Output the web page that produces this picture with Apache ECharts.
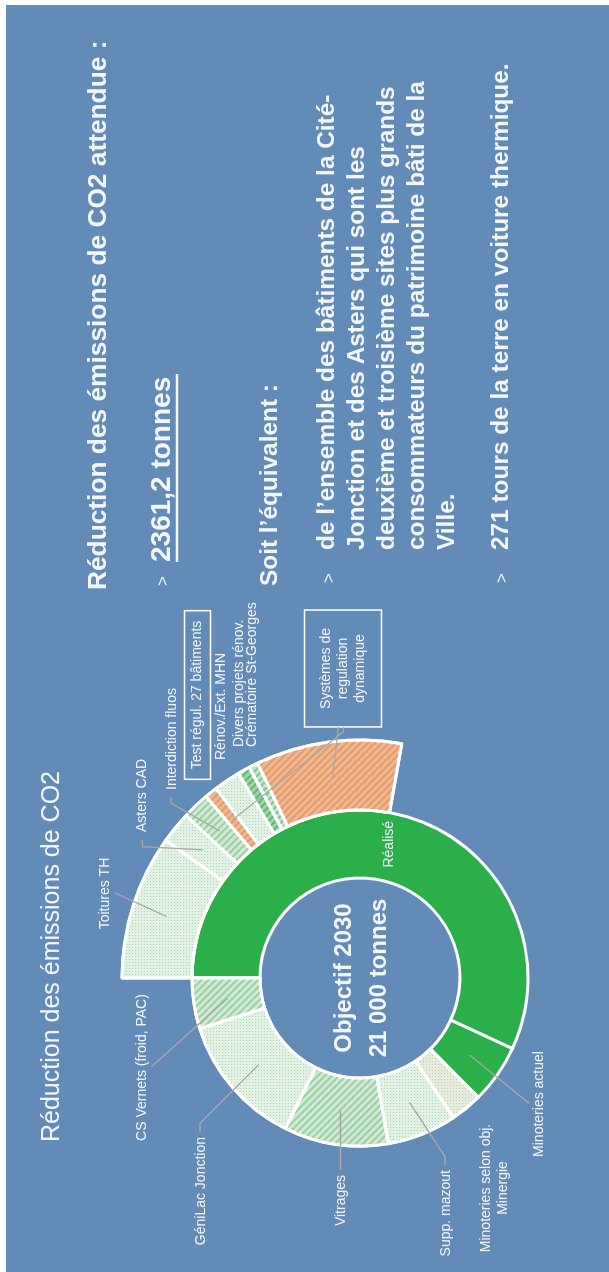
<!DOCTYPE html>
<html><head><meta charset="utf-8">
<script src="https://cdn.jsdelivr.net/npm/echarts@6/dist/echarts.min.js"></script>
<style>
html,body{margin:0;padding:0;background:#fff;width:609px;height:1272px;overflow:hidden;}
#bg{position:absolute;left:6px;top:5px;width:603px;height:1267px;background:#628BB8;}
#c{position:absolute;left:0;top:0;width:1272px;height:609px;transform-origin:0 0;transform:translate(0,1272px) rotate(-90deg);}
</style></head><body>
<div id="bg"></div><div id="c"></div>
<script>
// ---------- DATA (tonnes CO2) ----------
const objectiveTotal = 21000;
const innerNames = ['Réalisé','Minoteries actuel','Minoteries selon obj.\nMinergie','Supp. mazout','Vitrages','GéniLac Jonction','CS Vernets (froid, PAC)'];
const innerValues = [11950, 1190, 640, 1405, 2105, 2690, 1020];
const outerNames = ['Toitures TH','Asters CAD','Interdiction fluos','Test régul. 27 bâtiments','Rénov./Ext. MHN','Divers projets rénov.','Crématoire St-Georges','Systèmes de\nregulation\ndynamique'];
const outerValues = [2060, 450, 390, 180, 380, 175, 128, 2077];
const centerText = ['Objectif 2030', '21 000 tonnes'];
const titleText = 'Réduction des émissions de CO2';
const headText = 'Réduction des émissions de CO2 attendue :';
const reductionText = '2361,2 tonnes';
const equivText = 'Soit l’équivalent :';
const bullet1 = ['de l’ensemble des bâtiments de la Cité-','Jonction et des Asters qui sont les','deuxième et troisième sites plus grands','consommateurs du patrimoine bâti de la','Ville.'];
const bullet2 = '271 tours de la terre en voiture thermique.';

// ---------- STYLES ----------
const FF = '"Liberation Sans", Arial, Helvetica, sans-serif';
const C = [294, 360];
const WHITE = '#F4F7FA';
const LINE = '#A8A8A8';
const GREEN = '#2BAF4B';
const dot = (base, c) => ({color: base, decal: {symbol: 'rect', symbolSize: 1, dashArrayX: [1, 2], dashArrayY: [1, 2], color: c}});
const hatch = (base, c) => ({color: base, decal: {symbol: 'rect', symbolSize: 1, dashArrayX: [1, 0], dashArrayY: [1.5, 2.5], rotation: Math.PI / 4, color: c}});
const DOT = dot('#E1F1E3', 'rgba(120,185,135,0.5)');
const DOT_B = dot('#E6ECDD', 'rgba(160,185,140,0.55)');
const HATCH = hatch('#D2EBD5', 'rgba(130,195,145,0.7)');
const HATCH_G = hatch('#9FD6A9', 'rgba(80,175,100,0.8)');
const HATCH_L = hatch('#C4E5CA', 'rgba(110,190,130,0.8)');
const ORANGE = hatch('#EFB890', 'rgba(222,140,90,0.7)');
const innerStyles = [{color: GREEN}, {color: GREEN}, DOT_B, DOT, HATCH, DOT, HATCH];
const outerStyles = [DOT, DOT, HATCH, ORANGE, DOT, HATCH_G, HATCH_L, ORANGE];

// label placement (chart frame, px); pts = leader points after the in-segment anchor
const innerLab = [
  null,
  {x: 168, y: 539, align: 'center', pts: [[168.7, 529]]},
  {x: 84, y: 495, align: 'center'},
  {x: 102, y: 446, align: 'right', pts: [[115.3, 445], [107, 445]]},
  {x: 97, y: 341, align: 'right', pts: [[102, 340.5]]},
  {x: 135, y: 201, align: 'right', pts: [[148.7, 200], [140.3, 200]]},
  {x: 204.5, y: 142.5, align: 'center', pts: [[205.3, 151.5]]}
];
const outerLab = [
  {x: 378.5, y: 105, align: 'center', pts: [[379, 115]]},
  {x: 440, y: 142.5, align: 'left', pts: [[425.3, 142.3], [432.7, 142.3]]},
  {x: 482, y: 172, align: 'left', pts: [[469, 171], [475, 171]]},
  {x: 577, y: 197.4, align: 'center', extra: [[540.3, 343.3], [545, 343.3]]},
  {x: 512, y: 221, align: 'left'},
  {x: 525, y: 239, align: 'left'},
  {x: 525, y: 252, align: 'left'},
  {x: 603.5, y: 343, align: 'center', pts: [[545, 338.3]]}
];

function layoutFn(table) {
  return function (p) {
    const L = table[p.dataIndex];
    if (!L) return {};
    return {x: L.x, y: L.y, align: L.align, verticalAlign: 'middle'};
  };
}

const labelBase = {show: true, position: 'outside', color: WHITE, fontSize: 14, fontFamily: FF, lineHeight: 16, overflow: 'none', formatter: '{b}'};
const noLine = {show: false};

const innerData = innerNames.map((n, i) => {
  const d = {name: n, value: innerValues[i], itemStyle: Object.assign({borderColor: '#fff', borderWidth: 3}, innerStyles[i])};
  if (i === 0) d.label = {position: 'inside', rotate: 0, fontSize: 14};
  if (i === 2) d.label = {lineHeight: 17};
  return d;
});
const outerSum = outerValues.reduce((a, b) => a + b, 0);
const outerData = outerNames.map((n, i) => {
  const d = {name: n, value: outerValues[i], itemStyle: Object.assign({borderColor: '#fff', borderWidth: 3}, outerStyles[i])};
  if (i === 3) d.label = {borderColor: '#fff', borderWidth: 1.5, padding: [5, 10]};
  if (i === 7) d.label = {borderColor: '#fff', borderWidth: 1.5, padding: [13, 18], lineHeight: 17};
  return d;
});
outerData.push({name: '', value: objectiveTotal - outerSum, itemStyle: {color: 'rgba(0,0,0,0)', borderWidth: 0}, label: {show: false}});

const txt = (x, y, text, size, weight, extra) => ({type: 'text', x, y, silent: true, style: Object.assign({text, fill: WHITE, fontSize: size, fontWeight: weight, fontFamily: FF, align: 'left', verticalAlign: 'middle'}, extra || {})});

const chart = echarts.init(document.getElementById('c'), null, {renderer: 'canvas', width: 1272, height: 609});
const baseGraphic = [
  txt(130, 52, titleText, 25, 'normal'),
  txt(C[0], C[1] + 2, centerText.join('\n'), 24, 'bold', {align: 'center', lineHeight: 35}),
  txt(682, 99, headText, 26.3, 'bold'),
  txt(686, 163, '>', 17, 'normal'),
  txt(710, 162, reductionText, 28, 'bold'),
  {type: 'line', silent: true, shape: {x1: 710, y1: 177, x2: 898, y2: 177}, style: {stroke: WHITE, lineWidth: 2.5}},
  txt(686, 270, equivText, 24.4, 'bold'),
  txt(689, 329, '>', 17, 'normal'),
  txt(722, 312, bullet1.join('\n'), 24.4, 'bold', {verticalAlign: 'top', lineHeight: 30}),
  txt(689, 502, '>', 17, 'normal'),
  txt(722, 501, bullet2, 24.4, 'bold')
];
chart.setOption({
  animation: false,
  backgroundColor: 'transparent',
  textStyle: {fontFamily: FF},
  series: [
    {type: 'pie', name: 'inner', center: C, radius: [100, 168], startAngle: 90, clockwise: true, avoidLabelOverlap: false,
      emphasis: {disabled: true}, silent: true, label: labelBase, labelLine: noLine, labelLayout: layoutFn(innerLab), data: innerData},
    {type: 'pie', name: 'outer', center: C, radius: [168, 238], startAngle: 90, clockwise: true, avoidLabelOverlap: false,
      emphasis: {disabled: true}, silent: true, label: labelBase, labelLine: noLine, labelLayout: layoutFn(outerLab), data: outerData}
  ],
  graphic: baseGraphic
});

// leader lines: anchored at the middle of each sector, taken from the pie's own layout
function sectorMid(si, di, values) {
  try {
    const lay = chart.getModel().getSeriesByIndex(si).getData().getItemLayout(di);
    const m = (lay.startAngle + lay.endAngle) / 2;
    const r = (lay.r + lay.r0) / 2;
    return [lay.cx + r * Math.cos(m), lay.cy + r * Math.sin(m)];
  } catch (e) {
    let before = 0; for (let k = 0; k < di; k++) before += values[k];
    const m = -Math.PI / 2 + (before + values[di] / 2) / objectiveTotal * Math.PI * 2;
    const r = si === 0 ? 134 : 203;
    return [C[0] + r * Math.cos(m), C[1] + r * Math.sin(m)];
  }
}
const leaders = [];
const addLines = (si, table, values) => table.forEach((L, di) => {
  if (!L) return;
  [L.pts, L.extra].forEach(pts => {
    if (!pts) return;
    leaders.push({type: 'polyline', silent: true, z: 50, shape: {points: [sectorMid(si, di, values)].concat(pts)},
      style: {stroke: LINE, lineWidth: 1.3, fill: null}});
  });
});
addLines(0, innerLab, innerValues);
addLines(1, outerLab, outerValues);
chart.setOption({graphic: baseGraphic.concat(leaders)});
</script></body></html>
